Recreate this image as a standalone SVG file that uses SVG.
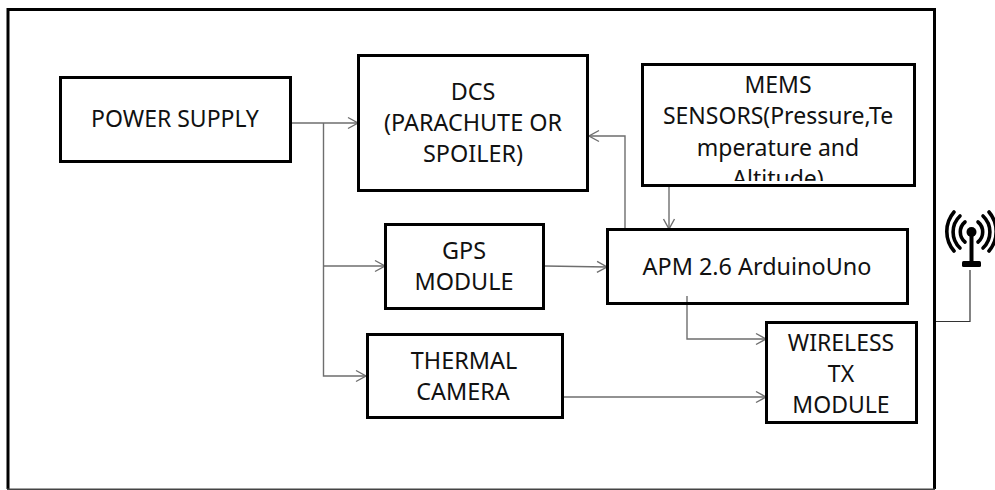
<svg xmlns="http://www.w3.org/2000/svg" width="995" height="490" viewBox="0 0 995 490">
<style>
.b{fill:none;stroke:#000;stroke-width:3}
.c{fill:none;stroke:#6e6e6e;stroke-width:1.4}
text{font-family:"Noto Sans","Open Sans",sans-serif;font-size:23.4px;fill:#111;text-anchor:middle}
.s{font-size:23px}
.a{fill:none;stroke:#000;stroke-width:3.6;stroke-linecap:round}
</style>
<defs>
<marker id="ah" markerUnits="userSpaceOnUse" markerWidth="14" markerHeight="14" refX="11" refY="7" orient="auto"><path d="M1 1.500L11 7L1 12.500" fill="none" stroke="#6e6e6e" stroke-width="1.4"/></marker>
<clipPath id="mc"><rect x="644" y="66" width="270" height="115"/></clipPath>
</defs>
<rect width="995" height="490" fill="#fff"/>
<g id="enclosure"><path class="b" d="M8 489V9.500H934.500V489"/><path d="M7 489.200H935" stroke="#444" stroke-width="1.500"/></g>
<g id="connectors">
<path class="c" marker-end="url(#ah)" d="M289 123H358"/>
<path class="c" d="M323.500 123V266"/>
<path class="c" marker-end="url(#ah)" d="M323.500 266H385"/>
<path class="c" marker-end="url(#ah)" d="M323.500 266V376H366"/>
<path class="c" marker-end="url(#ah)" d="M545 266L607 267"/>
<path class="c" marker-end="url(#ah)" d="M625 228V136H589"/>
<path class="c" marker-end="url(#ah)" d="M669 186V229"/>
<path class="c" marker-end="url(#ah)" d="M687 296V339H766"/>
<path class="c" marker-end="url(#ah)" d="M564 397H766"/>
<path d="M936 321.500H970V270" fill="none" stroke="#333" stroke-width="1.200"/>
</g>
<g id="power-supply"><rect class="b" x="60.500" y="77.500" width="230" height="84"/><text class="s" x="175" y="127">POWER SUPPLY</text></g>
<g id="dcs"><rect class="b" x="358.500" y="55.500" width="229" height="135"/><text x="473" y="100">DCS</text><text x="473" y="131">(PARACHUTE OR</text><text x="473" y="162">SPOILER)</text></g>
<g id="mems"><rect class="b" x="642.500" y="64.500" width="272" height="121"/><g clip-path="url(#mc)"><text class="s" x="778" y="93">MEMS</text><text class="s" x="778" y="124">SENSORS(Pressure,Te</text><text class="s" x="778" y="156">mperature and</text><text class="s" x="778" y="187">Altitude)</text></g></g>
<g id="gps"><rect class="b" x="385.500" y="224.500" width="158" height="84"/><text x="464" y="259">GPS</text><text x="464" y="290">MODULE</text></g>
<g id="apm"><rect class="b" x="607.500" y="229.500" width="300" height="74"/><text x="757" y="275">APM 2.6 ArduinoUno</text></g>
<g id="thermal"><rect class="b" x="367.500" y="334.500" width="195" height="83"/><text x="464" y="369">THERMAL</text><text x="463" y="400">CAMERA</text></g>
<g id="wireless"><rect class="b" x="766.500" y="322.500" width="150" height="100"/><text class="s" x="841" y="351">WIRELESS</text><text class="s" x="841" y="382">TX</text><text class="s" x="841" y="413">MODULE</text></g>
<g id="antenna">
<circle cx="971.500" cy="232" r="5"/><path d="M971.500 232V262" stroke="#000" stroke-width="4"/><rect x="962" y="261" width="19" height="6" rx="1.500"/>
<path class="a" d="M965 222A13 13 0 0 0 965 242M978 222A13 13 0 0 1 978 242"/>
<path class="a" d="M960 216A22 22 0 0 0 960 248M983 216A22 22 0 0 1 983 248"/>
<path class="a" d="M954 212A30 30 0 0 0 954 251M989 212A30 30 0 0 1 989 251"/>
</g>
</svg>
